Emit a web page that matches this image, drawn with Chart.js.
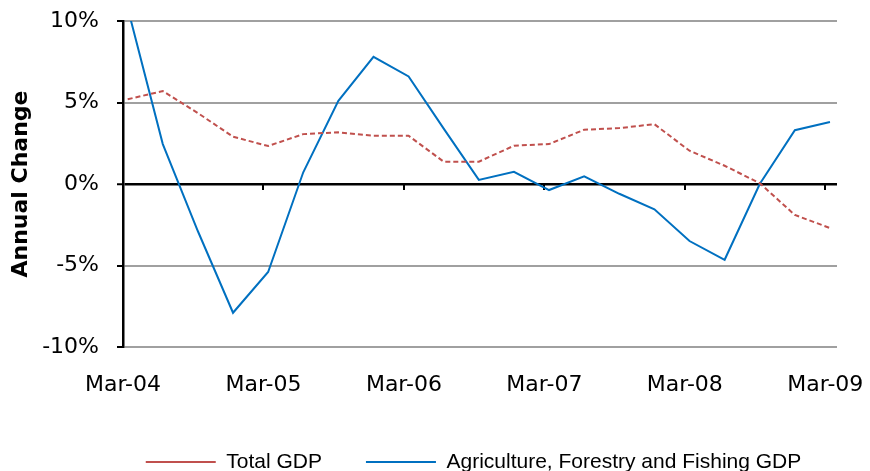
<!DOCTYPE html>
<html>
<head>
<meta charset="utf-8">
<script src="https://cdn.jsdelivr.net/npm/chart.js@4.4.1/dist/chart.umd.min.js"></script>
<style>
  body { margin: 0; background: #fff; }
  #chart { display: block; }
</style>
</head>
<body>
<canvas id="chart" width="870" height="471"></canvas>
<script>
// quarterly observations, Mar-04 .. Mar-09
const quarters = ['Mar-04', 'Jun-04', 'Sep-04', 'Dec-04', 'Mar-05', 'Jun-05', 'Sep-05', 'Dec-05',
  'Mar-06', 'Jun-06', 'Sep-06', 'Dec-06', 'Mar-07', 'Jun-07', 'Sep-07', 'Dec-07',
  'Mar-08', 'Jun-08', 'Sep-08', 'Dec-08', 'Mar-09'];
const totalGdp = [5.2, 5.7, 4.35, 2.9, 2.33, 3.06, 3.17, 2.96, 2.96, 1.37, 1.37, 2.35,
  2.45, 3.33, 3.43, 3.67, 2.04, 1.12, 0.05, -1.9, -2.7];
const agriGdp = [10.8, 2.45, -2.9, -7.9, -5.4, 0.72, 5.1, 7.8, 6.6, 3.4, 0.25, 0.75,
  -0.37, 0.47, -0.6, -1.55, -3.5, -4.65, 0.0, 3.3, 3.8];
const yearLabels = ['Mar-04', 'Mar-05', 'Mar-06', 'Mar-07', 'Mar-08', 'Mar-09'];

// x is measured in months from Mar-04
const toPoints = vals => vals.map((v, i) => ({ x: i * 3 + 0.4, y: v }));

const axisFont = { family: '"DejaVu Sans", Verdana, sans-serif', size: 22 };

// little tick marks hanging off the zero line
const zeroTicks = {
  id: 'zeroTicks',
  beforeDatasetsDraw(chart) {
    const { ctx, scales: { x, y } } = chart;
    const y0 = y.getPixelForValue(0);
    ctx.save();
    ctx.strokeStyle = '#000';
    ctx.lineWidth = 2;
    x.ticks.forEach(t => {
      if (t.value === 0) return;
      const px = Math.round(x.getPixelForValue(t.value));
      ctx.beginPath();
      ctx.moveTo(px, y0);
      ctx.lineTo(px, y0 + 6);
      ctx.stroke();
    });
    ctx.restore();
  }
};

// stop label overflow from pushing the plot area around
const noPad = s => { s.paddingLeft = s.paddingRight = s.paddingTop = s.paddingBottom = 0; };

new Chart(document.getElementById('chart'), {
  type: 'line',
  data: {
    datasets: [{
      label: 'Total GDP',
      data: toPoints(totalGdp),
      borderColor: '#C0504D',
      backgroundColor: '#C0504D',
      borderWidth: 2,
      borderDash: [5, 3],
      pointRadius: 0,
      tension: 0
    }, {
      label: 'Agriculture, Forestry and Fishing GDP',
      data: toPoints(agriGdp),
      borderColor: '#0070C0',
      backgroundColor: '#0070C0',
      borderWidth: 2,
      pointRadius: 0,
      tension: 0
    }]
  },
  options: {
    responsive: false,
    animation: false,
    devicePixelRatio: 1,
    // uneven side padding keeps the legend centred where the original has it
    layout: { padding: { left: 0, right: -77, top: 21, bottom: -11.5 } },
    plugins: {
      tooltip: { enabled: false },
      legend: {
        position: 'bottom',
        labels: {
          usePointStyle: true,
          pointStyle: 'line',
          pointStyleWidth: 70,
          padding: 44,
          color: '#000',
          font: { family: '"Liberation Sans", Arial, sans-serif', size: 21 }
        }
      }
    },
    scales: {
      x: {
        type: 'linear',
        min: 0,
        max: 61,
        afterFit: s => { s.height = 60.5; noPad(s); },
        grid: { display: false, drawTicks: false },
        border: { display: false },
        ticks: {
          stepSize: 12,
          includeBounds: false,
          autoSkip: false,
          maxRotation: 0,
          padding: 25,
          color: '#000',
          font: axisFont,
          callback: v => yearLabels[v / 12]
        }
      },
      y: {
        min: -10,
        max: 10,
        afterFit: s => { s.width = 123; noPad(s); },
        grid: {
          color: c => c.tick && c.tick.value === 0 ? '#000' : '#A0A0A0',
          lineWidth: c => c.tick && c.tick.value === 0 ? 2.5 : 2,
          tickColor: '#000',
          tickLength: 6,
          tickWidth: 2
        },
        border: { color: '#000', width: 2.5 },
        ticks: {
          stepSize: 5,
          padding: 18,
          color: '#000',
          font: axisFont,
          callback: v => v + '%'
        },
        title: {
          display: true,
          text: 'Annual Change',
          color: '#000',
          padding: { top: 8, bottom: 0 },
          font: { family: '"DejaVu Sans", Verdana, sans-serif', size: 22, weight: 'bold' }
        }
      },
      yR: {
        position: 'right',
        display: true,
        afterFit: s => { s.width = 110; noPad(s); },
        grid: { display: false },
        border: { display: false },
        ticks: { display: false }
      }
    }
  },
  plugins: [zeroTicks]
});
</script>
</body>
</html>
